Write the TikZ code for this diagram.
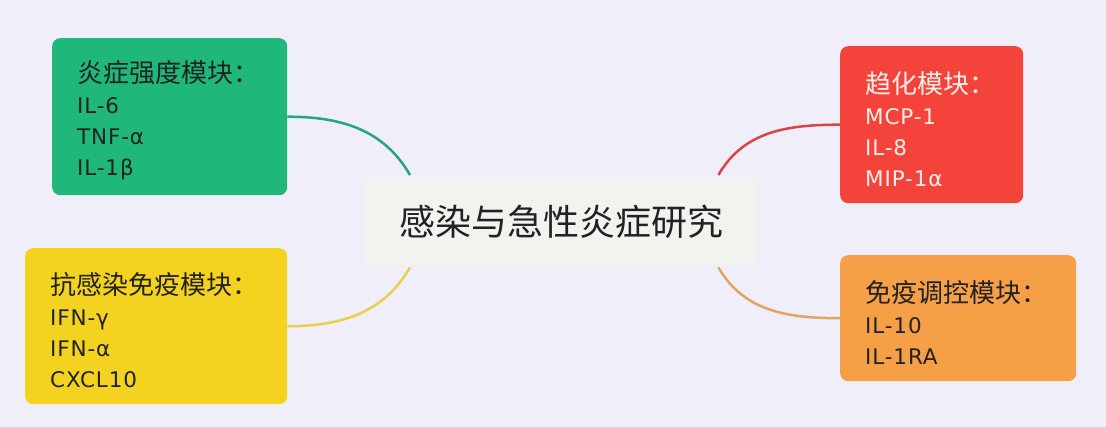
\documentclass[tikz,border=0pt]{standalone}
\usepackage{fontspec}
\setmainfont{Noto Sans CJK SC}
\newfontfamily\itemfont[LetterSpace=4]{DejaVu Sans}
\usetikzlibrary{positioning}
\definecolor{bgcol}{HTML}{EFEEF9}
\definecolor{hubfill}{HTML}{F2F2EE}
\definecolor{greenbox}{HTML}{1FB87A}
\definecolor{yellowbox}{HTML}{F3D320}
\definecolor{redbox}{HTML}{F4433B}
\definecolor{orangebox}{HTML}{F5A046}
\definecolor{greenline}{HTML}{22A684}
\definecolor{yellowline}{HTML}{E6D04C}
\definecolor{redline}{HTML}{D9444B}
\definecolor{orangeline}{HTML}{E2A464}
\definecolor{darktext}{HTML}{222222}
\definecolor{lighttext}{HTML}{FBF0EA}
\def\headline#1{\rule{0pt}{30pt}{\normalfont\fontsize{26}{31}\selectfont #1}}

\begin{document}
\begin{tikzpicture}[x=1pt, y=-1pt,
              box/.style = {shape=rectangle, rounded corners=8pt,
                anchor=north west, align=left, inner xsep=25pt, inner ysep=0pt,
                text=darktext, font=\itemfont\fontsize{21.5}{31}\selectfont},
              hub/.style = {shape=rectangle, rounded corners=2pt,
                anchor=north west, fill=hubfill, text=darktext,
                minimum width=392pt, minimum height=87pt,
                font=\fontsize{36}{40}\selectfont},
              link/.style = {line width=2.5pt}]
              \fill[bgcol] (0,0) rectangle (1106,427);
              \node[hub] (hub) at (365,178) {感染与急性炎症研究};
              \node[box, fill=greenbox, text width=185pt, minimum height=157pt] (inflam) at (52,38)
                {\headline{炎症强度模块：}\\IL-6\\TNF-α\\IL-1β};
              \node[box, fill=yellowbox, text width=212pt, minimum height=156pt] (defense) at (25,248)
                {\headline{抗感染免疫模块：}\\IFN-γ\\IFN-α\\CXCL10};
              \node[box, fill=redbox, text=lighttext, text width=133pt, minimum height=157pt] (chemo) at (840,46)
                {\headline{趋化模块：}\\MCP-1\\IL-8\\MIP-1α};
              \node[box, fill=orangebox, text width=186pt, minimum height=126pt] (regul) at (840,255)
                {\headline{免疫调控模块：}\\IL-10\\IL-1RA};
              % ends of the branches on the hub
              \coordinate (hubNW) at ([xshift=45pt,yshift=3pt]hub.north west);
              \coordinate (hubNE) at ([xshift=-39pt,yshift=3pt]hub.north east);
              \coordinate (hubSW) at ([xshift=45pt,yshift=-2pt]hub.south west);
              \coordinate (hubSE) at ([xshift=-39pt,yshift=-2pt]hub.south east);
              \draw[link, greenline] (hubNW) to[out=120, in=0] (inflam.east);
              \draw[link, yellowline] (hubSW) to[out=240, in=0] (defense.east);
              \draw[link, redline] (hubNE) to[out=60, in=180] (chemo.west);
              \draw[link, orangeline] (hubSE) to[out=300, in=180] (regul.west);
            \end{tikzpicture}
\end{document}
